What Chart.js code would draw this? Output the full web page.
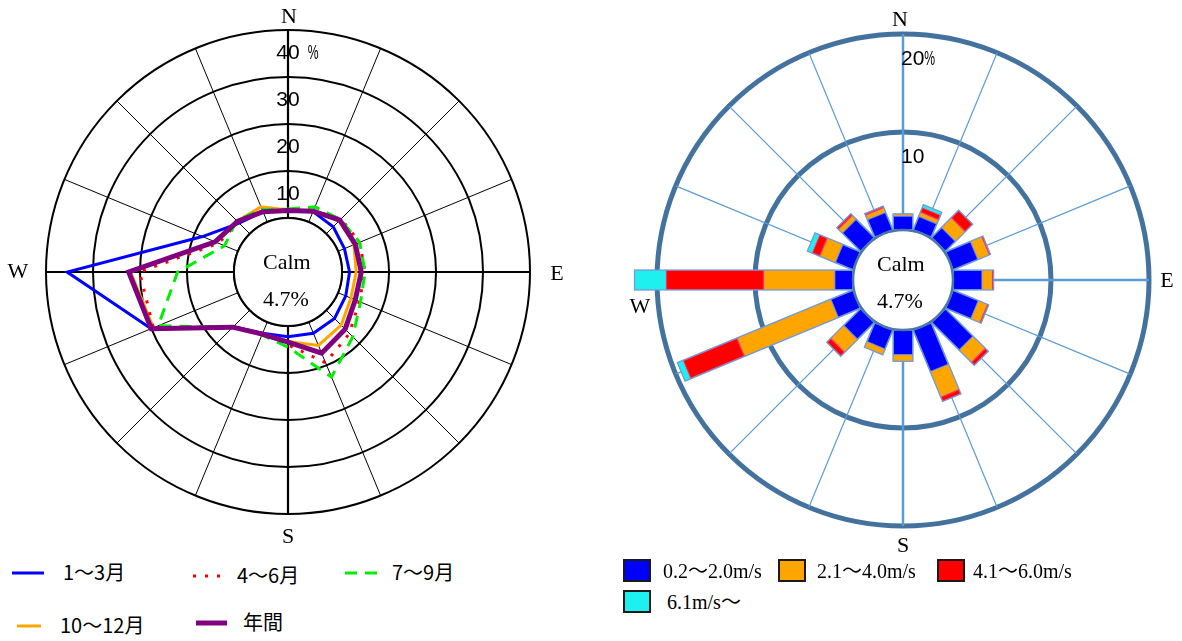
<!DOCTYPE html>
<html lang="ja">
<head>
<meta charset="utf-8">
<title>風配図</title>
<script src="https://cdn.jsdelivr.net/npm/chart.js@4/dist/chart.umd.min.js"></script>
<style>
  html, body { margin: 0; padding: 0; background: #fff; }
  body { width: 1182px; height: 641px; position: relative; overflow: hidden; }
  canvas { position: absolute; top: 0; }
  #roseLine { left: 0; }
  #roseBar { left: 590px; }
  .lg { position: absolute; white-space: nowrap; color: #000; }
  .lg-jp { font: 20px/20px "Noto Sans CJK JP", sans-serif; }
  .lg-serif { font: 20px/20px "Liberation Serif", "Noto Sans CJK JP", serif; }
  .box { position: absolute; width: 24px; height: 19px; border: 2px solid #1a1a1a; }
</style>
</head>
<body>
<canvas id="roseLine" width="580" height="550"></canvas>
<canvas id="roseBar" width="592" height="560"></canvas>
<div id="legend"></div>
<script>
/* ---------- データ ---------- */
const DIRECTIONS = ['N', 'NNE', 'NE', 'ENE', 'E', 'ESE', 'SE', 'SSE', 'S', 'SSW', 'SW', 'WSW', 'W', 'WNW', 'NW', 'NNW'];
const CALM = 4.7;

// 期間別 風向出現率 (%)
const SEASONS = ['1～3月', '4～6月', '7～9月', '10～12月', '年間'];
const FREQ_JAN_MAR = [1.6, 2.4, 2.1, 1.5, 1.6, 1.8, 2.5, 2.6, 2.3, 2.6, 5.0, 20.0, 35.5, 8.2, 3.2, 2.4];
const FREQ_APR_JUN = [1.6, 2.6, 4.5, 5.0, 4.9, 4.9, 7.0, 9.4, 4.0, 2.8, 5.0, 19.5, 20.1, 4.5, 3.5, 2.6];
const FREQ_JUL_SEP = [1.9, 3.5, 4.3, 5.0, 4.9, 5.2, 8.0, 12.7, 4.5, 3.0, 5.1, 18.4, 12.0, 3.1, 4.0, 2.9];
const FREQ_OCT_DEC = [1.7, 2.6, 3.9, 3.7, 3.0, 3.0, 4.5, 5.4, 3.3, 2.7, 5.1, 19.5, 22.0, 5.4, 3.8, 3.5];
const FREQ_YEAR    = [1.6, 2.5, 4.1, 4.0, 4.1, 4.0, 5.7, 7.2, 3.4, 2.8, 5.1, 20.0, 22.4, 5.3, 3.7, 2.4];
const LINE_TICKS = [0, 10, 20, 30, 40];

// 風速階級別 出現率 (%)
const SPEED_CLASSES = ['0.2～2.0m/s', '2.1～4.0m/s', '4.1～6.0m/s', '6.1m/s～'];
const SPEED_0_2 = [1.45, 1.55, 1.5, 2.8, 3.0, 2.85, 4.05, 4.65, 2.55, 2.15, 2.5, 2.5, 1.9, 2.0, 2.7, 2.0];
const SPEED_2_4 = [0.2, 0.4, 1.35, 1.2, 1.0, 0.95, 1.7, 2.75, 0.65, 0.6, 1.8, 10.3, 7.2, 1.65, 0.5, 0.45];
const SPEED_4_6 = [0, 0.55, 1.1, 0.15, 0.15, 0.15, 0.45, 0.5, 0, 0, 0.6, 6.0, 10.0, 0.9, 0.25, 0.2];
const SPEED_6UP = [0, 0.3, 0, 0, 0, 0, 0, 0, 0, 0, 0, 0.6, 3.2, 0.5, 0, 0];
const BAR_TICKS = [0, 10, 20];

/* ---------- 見た目 ---------- */
const LINE_STYLES = [
  { color: '#0000ff', width: 3, dash: [], order: 4 },
  { color: '#ff0000', width: 3, dash: [3, 9], order: 2 },
  { color: '#00ee00', width: 3, dash: [12, 8], order: 1 },
  { color: '#ffa500', width: 3, dash: [], order: 3 },
  { color: '#800080', width: 5, dash: [], order: 0 },
];
const BAR_COLORS = ['#0000ff', '#ffa500', '#ff0000', '#1ef0f0'];
const BAR_HALF = 10;

Chart.defaults.font.family = '"Liberation Sans", sans-serif';
const SERIF = '"Liberation Serif", "Noto Sans CJK JP", serif';

/* ---------- プラグイン ---------- */
// 静穏円：中心を白く抜き、枠と Calm の値を描く
const calmCenter = {
  id: 'calmCenter',
  beforeDatasetsDraw(chart) {
    const s = chart.scales.r, ctx = chart.ctx;
    ctx.save();
    ctx.beginPath();
    ctx.arc(s.xCenter, s.yCenter, s.getDistanceFromCenterForValue(0), 0, Math.PI * 2);
    ctx.fillStyle = '#fff';
    ctx.fill();
    ctx.restore();
  },
  afterDatasetsDraw(chart, args, opts) {
    const s = chart.scales.r, ctx = chart.ctx;
    ctx.save();
    ctx.beginPath();
    ctx.arc(s.xCenter, s.yCenter, s.getDistanceFromCenterForValue(0), 0, Math.PI * 2);
    ctx.strokeStyle = opts.color;
    ctx.lineWidth = opts.width;
    ctx.stroke();
    ctx.font = '22px ' + SERIF;
    ctx.fillStyle = '#000';
    ctx.textAlign = 'left';
    ctx.textBaseline = 'middle';
    ctx.fillText('Calm', s.xCenter + opts.textX, s.yCenter + opts.calmY);
    ctx.fillText(CALM.toFixed(1) + '%', s.xCenter + opts.textX, s.yCenter + opts.valueY);
    ctx.restore();
  },
};

// 目盛り数値と方位記号
const roseText = {
  id: 'roseText',
  afterDraw(chart, args, opts) {
    const s = chart.scales.r, ctx = chart.ctx;
    ctx.save();
    ctx.fillStyle = '#000';
    ctx.textBaseline = 'middle';
    ctx.font = '21px "Liberation Sans", sans-serif';
    const vals = opts.ticks;
    vals.forEach((v, k) => {
      const y = s.yCenter - s.getDistanceFromCenterForValue(v) + opts.inset;
      const x = s.xCenter + opts.tickX;
      const txt = String(v);
      ctx.textAlign = opts.tickAlign;
      ctx.fillText(txt, x, y);
      if (k === vals.length - 1) {
        const w = ctx.measureText(txt).width;
        const end = opts.tickAlign === 'center' ? x + w / 2 : x + w;
        ctx.save();
        ctx.translate(end + opts.pctGap, y);
        ctx.scale(0.58, 1);
        ctx.textAlign = 'left';
        ctx.fillText('%', 0, 0);
        ctx.restore();
      }
    });
    ctx.font = '22px ' + SERIF;
    ctx.textAlign = 'center';
    opts.compass.forEach(([idx, extra, dx, dy]) => {
      const p = s.getPointPosition(idx, s.drawingArea + extra);
      ctx.fillText(chart.data.labels[idx], p.x + dx, p.y + dy);
    });
    ctx.restore();
  },
};

// 風速階級を積み上げた長方形の棒
const windBars = {
  id: 'windBars',
  afterDatasetsDraw(chart) {
    const s = chart.scales.r, ctx = chart.ctx;
    const sets = chart.data.datasets;
    chart.data.labels.forEach((lab, i) => {
      const ang = s.getIndexAngle(i) - Math.PI / 2;
      ctx.save();
      ctx.translate(s.xCenter, s.yCenter);
      ctx.rotate(ang);
      let base = 0;
      const r0 = s.getDistanceFromCenterForValue(0);
      sets.forEach((ds) => {
        const v = ds.data[i];
        if (!v) return;
        const a = s.getDistanceFromCenterForValue(base);
        const b = s.getDistanceFromCenterForValue(base + v);
        ctx.fillStyle = ds.backgroundColor;
        ctx.fillRect(a, -BAR_HALF, b - a, BAR_HALF * 2);
        ctx.lineWidth = 1;
        ctx.strokeStyle = ds.barEdge;
        ctx.strokeRect(a + 0.5, -BAR_HALF + 0.5, b - a - 1, BAR_HALF * 2 - 1);
        base += v;
      });
      const end = s.getDistanceFromCenterForValue(base);
      ctx.lineWidth = 1.2;
      ctx.strokeStyle = '#6f9bd6';
      ctx.strokeRect(r0, -BAR_HALF, end - r0, BAR_HALF * 2);
      ctx.restore();
    });
  },
};

/* ---------- 左：期間別風配図 ---------- */
const lineSeries = [FREQ_JAN_MAR, FREQ_APR_JUN, FREQ_JUL_SEP, FREQ_OCT_DEC, FREQ_YEAR];

new Chart(document.getElementById('roseLine'), {
  type: 'radar',
  data: {
    labels: DIRECTIONS,
    datasets: lineSeries.map((d, k) => ({
      label: SEASONS[k],
      data: d,
      borderColor: LINE_STYLES[k].color,
      borderWidth: LINE_STYLES[k].width,
      borderDash: LINE_STYLES[k].dash,
      backgroundColor: 'transparent',
      fill: false,
      tension: 0,
      pointRadius: 0,
      pointHoverRadius: 0,
      order: LINE_STYLES[k].order,
    })),
  },
  options: {
    responsive: false,
    animation: false,
    events: [],
    layout: { padding: { left: 46, top: 30, right: 50, bottom: 36 } },
    plugins: {
      legend: { display: false },
      tooltip: { enabled: false },
      calmCenter: { color: '#000', width: 2, textX: -25, calmY: -9, valueY: 28 },
      roseText: {
        ticks: LINE_TICKS.slice(1), inset: 23, tickX: 0, tickAlign: 'center', pctGap: 8,
        compass: [[0, 13, 1, 0], [4, 27, 0, 2], [8, 23, 0, 0], [12, 28, 0, 0]],
      },
    },
    scales: {
      r: {
        min: -11.5,
        max: 40,
        afterBuildTicks: (sc) => { sc.ticks = LINE_TICKS.map((v) => ({ value: v })); },
        ticks: { display: false },
        pointLabels: { display: false },
        grid: { circular: true, color: '#000', lineWidth: 2 },
        angleLines: { color: '#000', lineWidth: (c) => (c.index % 4 === 0 ? 2.2 : 1) },
      },
    },
  },
  plugins: [calmCenter, roseText],
});

/* ---------- 右：風速階級別風配図 ---------- */
const barSeries = [SPEED_0_2, SPEED_2_4, SPEED_4_6, SPEED_6UP];
const BAR_EDGES = ['#5b8fe0', '#e0a040', '#ff3366', '#40d8e8'];

new Chart(document.getElementById('roseBar'), {
  type: 'radar',
  data: {
    labels: DIRECTIONS,
    datasets: barSeries.map((d, k) => ({
      label: SPEED_CLASSES[k],
      data: d,
      backgroundColor: BAR_COLORS[k],
      barEdge: BAR_EDGES[k],
      borderColor: 'transparent',
      borderWidth: 0,
      showLine: false,
      fill: false,
      pointRadius: 0,
      pointHoverRadius: 0,
    })),
  },
  options: {
    responsive: false,
    animation: false,
    events: [],
    layout: { padding: { left: 67, top: 34, right: 33, bottom: 34 } },
    plugins: {
      legend: { display: false },
      tooltip: { enabled: false },
      calmCenter: { color: '#4a78a6', width: 2.5, textX: -26, calmY: -15, valueY: 22 },
      roseText: {
        ticks: BAR_TICKS.slice(1), inset: 25, tickX: -2, tickAlign: 'left', pctGap: 0,
        compass: [[0, 14, -3, 0], [4, 18, 0, 1], [8, 20, 0, 0], [12, 17, 0, 27]],
      },
    },
    scales: {
      r: {
        min: -5.1,
        max: 20,
        afterBuildTicks: (sc) => { sc.ticks = BAR_TICKS.map((v) => ({ value: v })); },
        ticks: { display: false },
        pointLabels: { display: false },
        grid: {
          circular: true,
          color: '#44729f',
          lineWidth: (c) => (c.index === 0 ? 2.5 : 5),
        },
        angleLines: { color: '#5b9bd5', lineWidth: (c) => (c.index % 4 === 0 ? 2.5 : 1.2) },
      },
    },
  },
  plugins: [windBars, calmCenter, roseText],
});

/* ---------- 凡例 ---------- */
const legend = document.getElementById('legend');
const LINE_LEG_POS = [[12, 573, 32, 63], [193, 576, 28, 237], [345, 573, 32, 392], [17, 626, 24, 60], [196, 623, 31, 243]];
SEASONS.forEach((name, k) => {
  const [x, y, len, tx] = LINE_LEG_POS[k];
  const st = LINE_STYLES[k];
  const svg = document.createElementNS('http://www.w3.org/2000/svg', 'svg');
  svg.setAttribute('width', len);
  svg.setAttribute('height', 10);
  svg.style.cssText = `position:absolute;left:${x}px;top:${y - 5}px;`;
  const ln = document.createElementNS('http://www.w3.org/2000/svg', 'line');
  ln.setAttribute('x1', 0); ln.setAttribute('x2', len);
  ln.setAttribute('y1', 5); ln.setAttribute('y2', 5);
  ln.setAttribute('stroke', st.color);
  ln.setAttribute('stroke-width', st.width);
  if (st.dash.length) ln.setAttribute('stroke-dasharray', st.dash.join(' '));
  svg.appendChild(ln);
  legend.appendChild(svg);
  const t = document.createElement('div');
  t.className = 'lg lg-jp';
  t.style.left = tx + 'px';
  t.style.top = (y - 11) + 'px';
  t.textContent = name;
  legend.appendChild(t);
});

const BAR_LEG_POS = [[623, 559, 663], [778, 559, 817], [937, 559, 973], [623, 590, 667]];
SPEED_CLASSES.forEach((name, k) => {
  const [x, y, tx] = BAR_LEG_POS[k];
  const b = document.createElement('div');
  b.className = 'box';
  b.style.left = x + 'px';
  b.style.top = y + 'px';
  b.style.background = BAR_COLORS[k];
  legend.appendChild(b);
  const t = document.createElement('div');
  t.className = 'lg lg-serif';
  t.style.left = tx + 'px';
  t.style.top = (y + 12 - 10) + 'px';
  t.textContent = name;
  legend.appendChild(t);
});
</script>
</body>
</html>
